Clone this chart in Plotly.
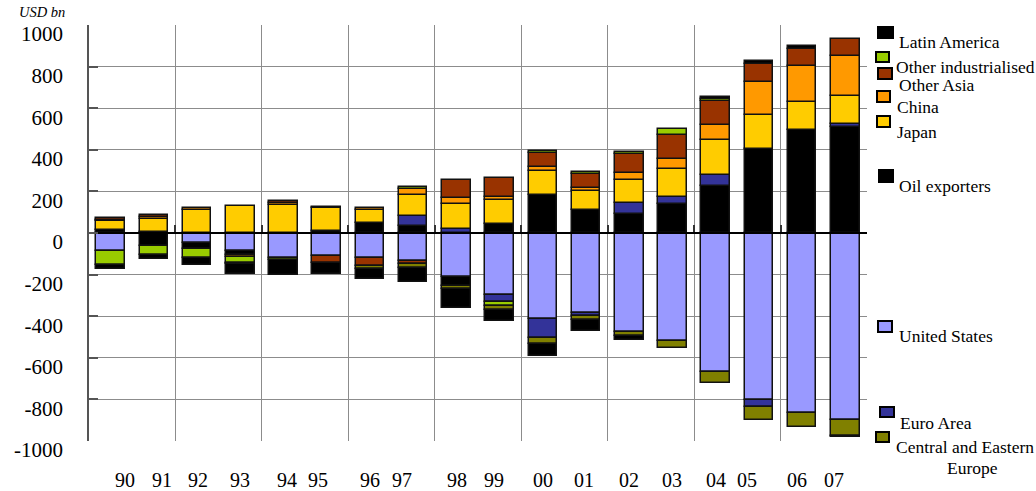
import plotly.graph_objects as go

# Current account balances, USD bn
years = ["90", "91", "92", "93", "94", "95", "96", "97", "98", "99",
         "00", "01", "02", "03", "04", "05", "06", "07"]

united_states = [-85, 3, -48, -85, -120, -112, -122, -136, -213, -298,
                 -414, -386, -474, -521, -670, -805, -866, -899]
oil_exporters = [16, -61, -29, -20, None, 10, 48, 32, -43, 43,
                 181, 112, 93, 139, 224, 406, 494, 511]
euro_area = [None, None, None, None, None, None, None, 51, 18, -33,
             -90, -15, 51, 34, 53, -33, None, 14]
japan = [40, 66, 112, 131, 136, 111, 64, 98, 120, 114,
         117, 88, 112, 136, 172, 163, 136, 135]
china = [8, 8, 6, -10, 8, 2, 7, 32, 32, 14,
         19, 16, 32, 46, 72, 155, 173, 189]
other_asia = [6, 10, None, None, 8, -34, -38, -14, 87, 93,
              67, 69, 93, 117, 115, 90, 83, 85]
other_industrialised = [-69, -45, -43, -28, -12, None, None, 8, None, -18,
                        8, 8, 8, 29, 6, None, None, None]
central_eastern_europe = [None, None, None, -8, None, None, -15, -20, -13, -20,
                          -30, -17, -22, -32, -51, -62, -68, -75]
latin_america = [-19, -19, -32, -48, -70, -52, -48, -66, -90, -56,
                 -58, -53, -18, None, 14, 12, 12, -9]

y_ticks = [1000, 800, 600, 400, 200, 0, -200, -400, -600, -800, -1000]

# stacking order (positive values stack upward, negative downward)
series = [
    ("United States", united_states, "#9999FF"),
    ("Oil exporters", oil_exporters, "#000000"),
    ("Euro Area", euro_area, "#333399"),
    ("Japan", japan, "#FFCC00"),
    ("China", china, "#FF9900"),
    ("Other Asia", other_asia, "#993300"),
    ("Other industrialised", other_industrialised, "#99CC00"),
    ("Central and Eastern Europe", central_eastern_europe, "#808000"),
    ("Latin America", latin_america, "#000000"),
]

FONT = "Times New Roman"
W, H = 1036, 491
L, R, T, B = 89, 867, 25, 441   # plot area edges in pixels


def px_x(px):
    return (px - L) / (R - L)


def px_y(py):
    return (B - py) / (B - T)


xpos = list(range(len(years)))

fig = go.Figure()
for name, vals, color in series:
    fig.add_trace(go.Bar(
        x=xpos, y=vals, name=name, width=0.66,
        marker=dict(color=color, line=dict(color="#111111", width=1.5)),
        showlegend=False,
    ))

# year labels sit at hand-set offsets under the bars
year_label_x = [0.33, 1.19, 2.02, 2.99, 4.08, 4.80, 6.00, 6.74, 8.02, 8.87,
                10.00, 10.95, 11.99, 12.99, 14.01, 14.73, 15.89, 16.74]
annotations = []
for lab, xv in zip(years, year_label_x):
    annotations.append(dict(
        x=xv, y=px_y(480), xref="x", yref="paper", text=lab, showarrow=False,
        xanchor="center", yanchor="middle",
        font=dict(family=FONT, size=20, color="black"),
    ))

annotations.append(dict(
    x=px_x(17), y=px_y(12), xref="paper", yref="paper", text="<i>USD bn</i>",
    showarrow=False, xanchor="left", yanchor="middle",
    font=dict(family=FONT, size=14.5, color="black"),
))

# hand-placed legend: (label, colour, swatch box px, text anchor px)
legend_items = [
    ("Latin America", "#000000", (878, 27, 893, 38), (897, 42)),
    ("Other industrialised", "#99CC00", (876, 52, 889, 62), (894, 67)),
    ("Other Asia", "#993300", (878, 68, 892, 79), (897, 85)),
    ("China", "#FF9900", (877, 91, 890, 102), (895, 107)),
    ("Japan", "#FFCC00", (877, 116, 890, 127), (895, 132)),
    ("Oil exporters", "#000000", (879, 170, 893, 182), (897, 186)),
    ("United States", "#9999FF", (878, 321, 892, 332), (897, 336)),
    ("Euro Area", "#333399", (880, 407, 894, 417), (898, 423)),
    ("Central and Eastern", "#808000", (876, 432, 889, 442), (894, 447)),
]
shapes = []
for label, color, (x0, y0, x1, y1), (tx, ty) in legend_items:
    shapes.append(dict(
        type="rect", xref="paper", yref="paper",
        x0=px_x(x0), x1=px_x(x1), y0=px_y(y1), y1=px_y(y0),
        fillcolor=color, line=dict(color="#000000", width=2),
    ))
    annotations.append(dict(
        x=px_x(tx), y=px_y(ty), xref="paper", yref="paper", text=label,
        showarrow=False, xanchor="left", yanchor="middle",
        font=dict(family=FONT, size=17.5, color="black"),
    ))
annotations.append(dict(
    x=px_x(973), y=px_y(468), xref="paper", yref="paper", text="Europe",
    showarrow=False, xanchor="center", yanchor="middle",
    font=dict(family=FONT, size=17.5, color="black"),
))

fig.update_layout(
    width=W, height=H,
    margin=dict(l=L, r=W - R, t=T, b=H - B, pad=0),
    paper_bgcolor="white", plot_bgcolor="white",
    barmode="relative", bargap=0,
    font=dict(family=FONT, color="black"),
    annotations=annotations, shapes=shapes,
    xaxis=dict(
        range=[-0.5, len(years) - 0.5],
        tickvals=[-0.5 + 2 * k for k in range(len(years) // 2 + 1)],
        showticklabels=False, ticks="inside", ticklen=7,
        tickcolor="#333333", tickwidth=1.5,
        showgrid=True, gridcolor="#8c8c8c", gridwidth=1,
        showline=True, linecolor="#000000", linewidth=1.5,
        anchor="free", position=0.5, zeroline=False,
    ),
    yaxis=dict(
        range=[-1000, 1000], tickvals=y_ticks,
        ticktext=[str(v) for v in y_ticks],
        ticks="inside", ticklen=9, tickcolor="#555555", tickwidth=1.5,
        showline=True, linecolor="#555555", linewidth=1.5,
        showgrid=True, gridcolor="#8c8c8c", gridwidth=1,
        zeroline=False,
        tickfont=dict(family=FONT, size=21, color="black"),
        ticklabelstandoff=20, ticklabelshift=9,
    ),
)

fig.write_html("out.html")
